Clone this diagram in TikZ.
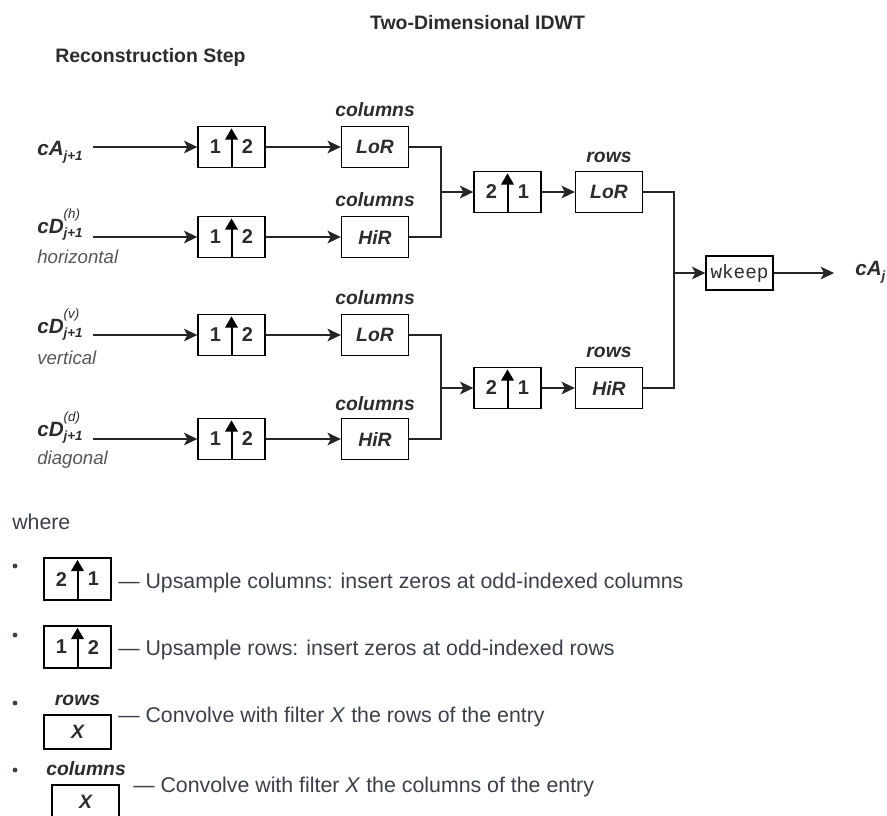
\documentclass[tikz,border=0pt]{standalone}
\usepackage{fontspec}
\setmainfont{Liberation Sans}
\setmonofont{Liberation Mono}
\usetikzlibrary{arrows.meta}

\definecolor{ink}{HTML}{262626}
\definecolor{txt}{HTML}{2C2C2C}
\definecolor{soft}{HTML}{575757}
\definecolor{body}{HTML}{3C3F48}

\newcommand\fsz[1]{\fontsize{#1}{#1}\selectfont}
% signal names: c<letter> with optional superscript and subscript
\newcommand\sigA[2]{c#1\raisebox{-4pt}{\fsz{10}#2}}
\newcommand\sigD[3]{c#1\rlap{\raisebox{11pt}{\fsz{10}\mdseries(#2)}}\raisebox{-3.5pt}{\fsz{10}#3}}

\tikzset{
  box/.style={draw=black, line width=1pt, minimum width=50.25pt,
    minimum height=30.75pt, inner sep=0pt, fill=white},
  flt/.style={box, font=\fsz{14.5}\bfseries\itshape, text=txt},
  lbl/.style={font=\fsz{14.5}\bfseries\itshape, text=txt, inner sep=0pt},
  sig/.style={font=\fsz{15.5}\bfseries\itshape, text=txt, inner sep=0pt, anchor=base west},
  note/.style={font=\fsz{14}\itshape, text=soft, inner sep=0pt, anchor=base west},
  body/.style={font=\fsz{16}, text=body, inner sep=0pt, anchor=west},
  wire/.style={draw=ink, line width=1.1pt},
  arr/.style={wire, -{Stealth[length=10pt,width=9.5pt,inset=2.5pt]}},
  updown/.style 2 args={box, path picture={
    \draw[black, line width=1.5pt, -{Triangle[length=8.5pt,width=9.5pt]}]
      ([yshift=0.5pt]path picture bounding box.south) --
      ([yshift=-1.4pt]path picture bounding box.north);
    \node[font=\fsz{15}\bfseries, text=txt, inner sep=0pt]
      at ([xshift=-12pt]path picture bounding box.center) {#1};
    \node[font=\fsz{15}\bfseries, text=txt, inner sep=0pt]
      at ([xshift=12pt]path picture bounding box.center) {#2};
  }},
  bullet/.style={fill=body, circle, inner sep=0pt, minimum size=3.6pt},
}

\begin{document}
\begin{tikzpicture}[x=0.75pt, y=-0.75pt]
\clip (0,0) rectangle (887,815);

% headings
\node[font=\fsz{14.6}\bfseries, text=txt] (title) at (477.5,23) {Two-Dimensional IDWT};
\node[font=\fsz{14.6}\bfseries, text=txt, anchor=west, inner sep=0pt] (step) at (55,57) {Reconstruction Step};

% input signals
\node[sig] (inA) at (37,155) {\sigA{A}{j+1}};
\node[sig] (inH) at (37,233) {\sigD{D}{h}{j+1}};
\node[note] (nH) at (37,263) {horizontal};
\node[sig] (inV) at (37,333) {\sigD{D}{v}{j+1}};
\node[note] (nV) at (37,364) {vertical};
\node[sig] (inG) at (37,436) {\sigD{D}{d}{j+1}};
\node[note] (nG) at (37,464) {diagonal};

\coordinate (s1) at (93,147);
\coordinate (s2) at (93,237);
\coordinate (s3) at (93,335);
\coordinate (s4) at (93,439);

% row upsampling
\node[updown={1}{2}] (u1) at (231.5,147) {};
\node[updown={1}{2}] (u2) at (231.5,237) {};
\node[updown={1}{2}] (u3) at (231.5,335) {};
\node[updown={1}{2}] (u4) at (231.5,439) {};

% column filters
\node[flt] (c1) at (375,147) {LoR};
\node[flt] (c2) at (375,237) {HiR};
\node[flt] (c3) at (375,335) {LoR};
\node[flt] (c4) at (375,439) {HiR};
\node[lbl] (lc1) at (375,110) {columns};
\node[lbl] (lc2) at (375,200) {columns};
\node[lbl] (lc3) at (375,298) {columns};
\node[lbl] (lc4) at (375,404) {columns};

% column upsampling
\node[updown={2}{1}] (d1) at (507.5,192) {};
\node[updown={2}{1}] (d2) at (507.5,388) {};

% row filters
\node[flt] (r1) at (609,192) {LoR};
\node[flt] (r2) at (609,388) {HiR};
\node[lbl] (lr1) at (609,157) {rows};
\node[lbl] (lr2) at (609,352) {rows};

% extraction and output
\node[box, minimum height=25.5pt, font=\ttfamily\fsz{14.5}, text=txt] (wk) at (739.5,273) {wkeep};
\node[sig, anchor=west] (out) at (855,272) {\sigA{A}{j}};
\coordinate (oEnd) at (834,273);

% junctions
\coordinate (j1) at (441,192);
\coordinate (j2) at (441,388);
\coordinate (j3) at (674,273);

% connectors
\draw[arr] (s1) -- (u1.west);
\draw[arr] (s2) -- (u2.west);
\draw[arr] (s3) -- (u3.west);
\draw[arr] (s4) -- (u4.west);
\draw[arr] (u1.east) -- (c1.west);
\draw[arr] (u2.east) -- (c2.west);
\draw[arr] (u3.east) -- (c3.west);
\draw[arr] (u4.east) -- (c4.west);
\draw[wire] (c1.east) -| (j1) |- (c2.east);
\draw[wire] (c3.east) -| (j2) |- (c4.east);
\draw[arr, line width=1.8pt] (j1) -- (d1.west);
\draw[arr] (j2) -- (d2.west);
\draw[arr] (d1.east) -- (r1.west);
\draw[arr] (d2.east) -- (r2.west);
\draw[wire] (r1.east) -| (j3) |- (r2.east);
\draw[arr] (j3) -- (wk.west);
\draw[arr] (wk.east) -- (oEnd);

% legend
\node[body] (where) at (12,522) {where};

\node[bullet] (b1) at (15,566) {};
\node[updown={2}{1}, minimum height=31.5pt] (k1) at (77.5,579) {};
\node[body] (t1) at (118,583) {--- Upsample columns: insert zeros at odd-indexed columns};

\node[bullet] (b2) at (15,635) {};
\node[updown={1}{2}, minimum height=31.5pt] (k2) at (77.5,647) {};
\node[body] (t2) at (118,650) {--- Upsample rows: insert zeros at odd-indexed rows};

\node[bullet] (b3) at (15,703) {};
\node[lbl] (kl3) at (77.5,700) {rows};
\node[flt, minimum height=25.5pt] (k3) at (77.5,732) {X};
\node[body] (t3) at (118,717) {--- Convolve with filter \textit{X} the rows of the entry};

\node[bullet] (b4) at (15,770) {};
\node[lbl] (kl4) at (86,769) {columns};
\node[flt, minimum height=25.5pt] (k4) at (85.5,802) {X};
\node[body] (t4) at (133,787) {--- Convolve with filter \textit{X} the columns of the entry};
\end{tikzpicture}
\end{document}
